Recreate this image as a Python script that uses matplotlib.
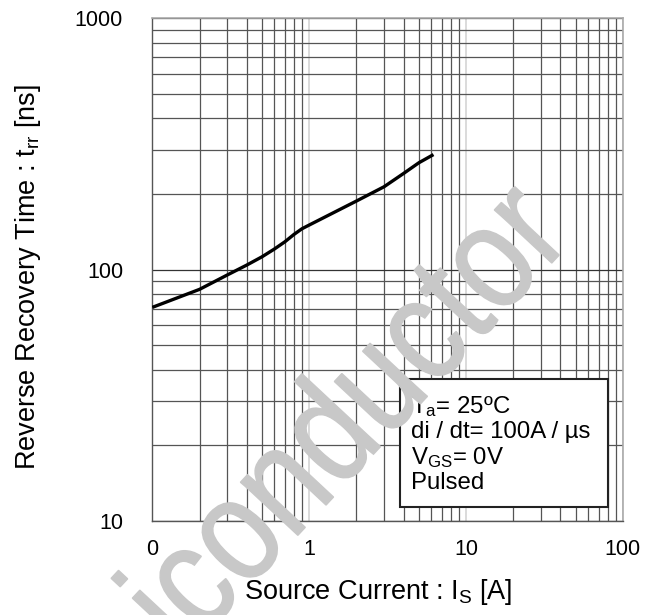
import matplotlib
matplotlib.use('Agg')
from matplotlib import pyplot as plt
from matplotlib.patches import Rectangle, PathPatch
from matplotlib.textpath import TextPath
from matplotlib.font_manager import FontProperties
from matplotlib.transforms import Affine2D
from matplotlib.ticker import LogLocator, FixedLocator, NullFormatter

plt.rcParams['font.family'] = ['Liberation Sans', 'DejaVu Sans']
plt.rcParams['mathtext.default'] = 'regular'

# source current [A] vs reverse recovery time [ns]
current = [0.1, 0.2, 0.3, 0.4, 0.5, 0.6, 0.7, 0.8, 0.9, 1.0, 2.0, 3.0, 4.0, 5.0, 6.2]
trr = [70.8, 83.5, 95.2, 104.3, 112.5, 120.8, 129.1, 138.1, 145.5, 150.5, 187.5, 213.7, 241.5, 266.2, 287.0]

x_ticks = [0.1, 1, 10, 100]
x_tick_labels = ['0', '1', '10', '100']
y_ticks = [10, 100, 1000]
y_tick_labels = ['10', '100', '1000']

conditions = ['T$_a$= 25ºC', 'di / dt= 100A / µs', 'V$_{GS}$= 0V', 'Pulsed']

fig = plt.figure(figsize=(6.55, 6.15), dpi=100)
ax = fig.add_axes([0.2325, 0.1528, 0.7185, 0.8174])

ax.set_xscale('log')
ax.set_yscale('log')
ax.set_xlim(0.1, 100)
ax.set_ylim(10, 1000)

# grid: darker minor lines, pale decade lines in x
ax.xaxis.set_minor_locator(LogLocator(base=10, subs=range(2, 10)))
ax.yaxis.set_minor_locator(LogLocator(base=10, subs=range(2, 10)))
ax.xaxis.set_minor_formatter(NullFormatter())
ax.yaxis.set_minor_formatter(NullFormatter())
ax.grid(which='minor', axis='both', color='#555555', lw=0.9)
ax.grid(which='major', axis='y', color='#333333', lw=0.9)
ax.grid(which='major', axis='x', color='#d4d4d4', lw=1.2)

ax.plot(current, trr, color='black', lw=2.4, solid_capstyle='butt', zorder=3)

ax.xaxis.set_major_locator(FixedLocator(x_ticks))
ax.set_xticklabels(x_tick_labels)
ax.yaxis.set_major_locator(FixedLocator(y_ticks))
ax.set_yticklabels(y_tick_labels)
ax.tick_params(which='both', length=0, labelsize=15.5)
ax.tick_params(axis='x', pad=13)
ax.tick_params(axis='y', pad=21)

for side in ['left', 'bottom']:
    ax.spines[side].set_color('#555555')
    ax.spines[side].set_linewidth(1.0)
for side in ['top', 'right']:
    ax.spines[side].set_color('#aaaaaa')
    ax.spines[side].set_linewidth(1.2)

ax.set_xlabel('Source Current : I$_S$ [A]', fontsize=19.5)
ax.xaxis.set_label_coords(0.4795, -0.112)
ax.set_ylabel('Reverse Recovery Time : t$_{rr}$ [ns]', fontsize=19.5)
ax.yaxis.set_label_coords(-0.232, 0.485)

# measurement conditions box
ax.add_patch(Rectangle((0.526, 0.028), 0.442, 0.254, transform=ax.transAxes,
                       facecolor='white', edgecolor='#222222', lw=1.5, zorder=5))
for i, line in enumerate(conditions):
    ax.text(0.55, 0.215 - i * 0.0505, line, transform=ax.transAxes, fontsize=17.3,
            ha='left', va='baseline', zorder=6)

# watermark: tall rotated text outline in pixel coordinates
mark = TextPath((0, 0), 'Semiconductor', size=1,
                prop=FontProperties(family='Liberation Sans'))
mark_tf = Affine2D().scale(124, 148).rotate_deg(47).translate(10, -229)
fig.patches.append(PathPatch(mark, transform=mark_tf, facecolor='#c8c8c8',
                             edgecolor='#c8c8c8', lw=1.0, zorder=10))

fig.savefig('out.png', dpi=100)
